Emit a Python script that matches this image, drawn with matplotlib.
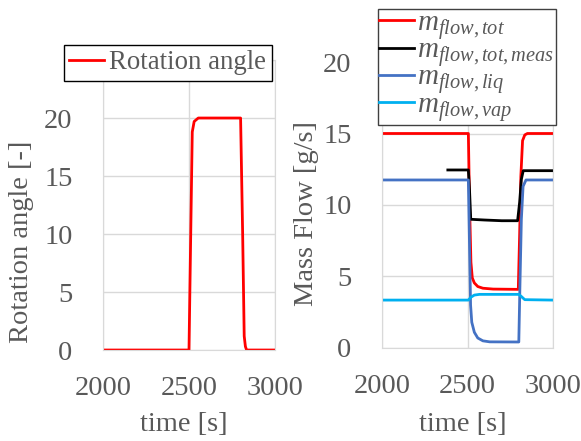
import numpy as np
import matplotlib.pyplot as plt

plt.rcParams['font.family'] = 'Liberation Serif'
plt.rcParams['mathtext.fontset'] = 'custom'
plt.rcParams['mathtext.rm'] = 'Liberation Serif'
plt.rcParams['mathtext.it'] = 'Liberation Serif:italic'

# Donnees
t_rot = [2000, 2500, 2510, 2519, 2530, 2554, 2800, 2812, 2821, 2828, 2835, 3000]
rot = [0, 0, 10, 18.8, 19.7, 20, 20, 10, 1.2, 0.3, 0, 0]

t_tot = [2000, 2505, 2512, 2520, 2528, 2540, 2560, 2590, 2650, 2797, 2805, 2812, 2822, 2835, 2850, 3000]
m_tot = [15, 15, 10, 6, 4.9, 4.55, 4.3, 4.18, 4.12, 4.1, 8, 12, 14.5, 14.9, 15, 15]

t_meas = [2385, 2505, 2512, 2519, 2600, 2700, 2793, 2805, 2815, 2826, 3000]
m_meas = [12.45, 12.45, 11, 9.0, 8.95, 8.9, 8.9, 10.2, 11.8, 12.4, 12.4]

t_liq = [2000, 2505, 2512, 2518, 2525, 2540, 2560, 2590, 2630, 2800, 2806, 2815, 2825, 2842, 3000]
m_liq = [11.75, 11.75, 7, 3, 1.8, 1.1, 0.7, 0.5, 0.43, 0.42, 4, 9, 11.3, 11.75, 11.75]

t_vap = [2000, 2505, 2520, 2540, 2570, 2800, 2815, 2835, 3000]
m_vap = [3.35, 3.35, 3.55, 3.7, 3.75, 3.75, 3.6, 3.38, 3.35]

gris = '#595959'
grille = '#D9D9D9'
fs = 20.5

fig = plt.figure(figsize=(5.81, 4.41), dpi=100)
ax1 = fig.add_axes([0.1773, 0.2063, 0.2960, 0.6576])
ax2 = fig.add_axes([0.6575, 0.2109, 0.2943, 0.6485])

for ax in [ax1, ax2]:
    ax.set_xlim(2000, 3000)
    ax.set_xticks([2000, 2500, 3000])
    ax.grid(True, color=grille, linewidth=1)
    ax.set_axisbelow(True)
    for s in ax.spines.values():
        s.set_color(grille)
    ax.tick_params(length=0, labelsize=fs, colors=gris, pad=19)
    ax.tick_params(axis='y', pad=22)

# graphe de gauche
ax1.plot(t_rot, rot, color='#FF0000', linewidth=2, label='Rotation angle')
ax1.set_ylim(0, 25)
ax1.set_yticks([0, 5, 10, 15, 20, 25])
ax1.set_yticklabels(['0', '5', '10', '15', '20', ''])
ax1.set_xlabel('time [s]', fontsize=fs, color=gris)
ax1.set_ylabel('Rotation angle [-]', fontsize=fs, color=gris)
ax1.xaxis.set_label_coords(0.47, -0.215)
ax1.yaxis.set_label_coords(-0.40, 0.372)
leg1 = ax1.legend(loc='upper left', bbox_to_anchor=(0.110, 0.898), bbox_transform=fig.transFigure,
                  fontsize=19.3, labelcolor=gris, fancybox=False, edgecolor='black', framealpha=1,
                  handlelength=1.3, handletextpad=0.2, borderpad=0.2, borderaxespad=0)
leg1.get_frame().set_linewidth(1)

# graphe de droite
ax2.plot(t_tot, m_tot, color='#FF0000', linewidth=2, label='$m_{flow,tot}$')
ax2.plot(t_meas, m_meas, color='black', linewidth=2, label='$m_{flow,tot,meas}$')
ax2.plot(t_liq, m_liq, color='#4472C4', linewidth=2, label='$m_{flow,liq}$')
ax2.plot(t_vap, m_vap, color='#00B0F0', linewidth=2, label='$m_{flow,vap}$')
ax2.set_ylim(0, 20)
ax2.set_yticks([0, 5, 10, 15, 20])
ax2.set_xlabel('time [s]', fontsize=fs, color=gris)
ax2.set_ylabel('Mass Flow [g/s]', fontsize=fs, color=gris)
ax2.xaxis.set_label_coords(0.47, -0.225)
ax2.yaxis.set_label_coords(-0.37, 0.472)
leg2 = ax2.legend(loc='upper left', bbox_to_anchor=(0.650, 0.980), bbox_transform=fig.transFigure,
                  fontsize=21, labelcolor=gris, fancybox=False, edgecolor='#404040', framealpha=1,
                  handlelength=1.2, handletextpad=0.1, borderpad=0.05, borderaxespad=0,
                  labelspacing=-0.15)
leg2.get_frame().set_linewidth(1)

fig.savefig('out.png', dpi=100)
